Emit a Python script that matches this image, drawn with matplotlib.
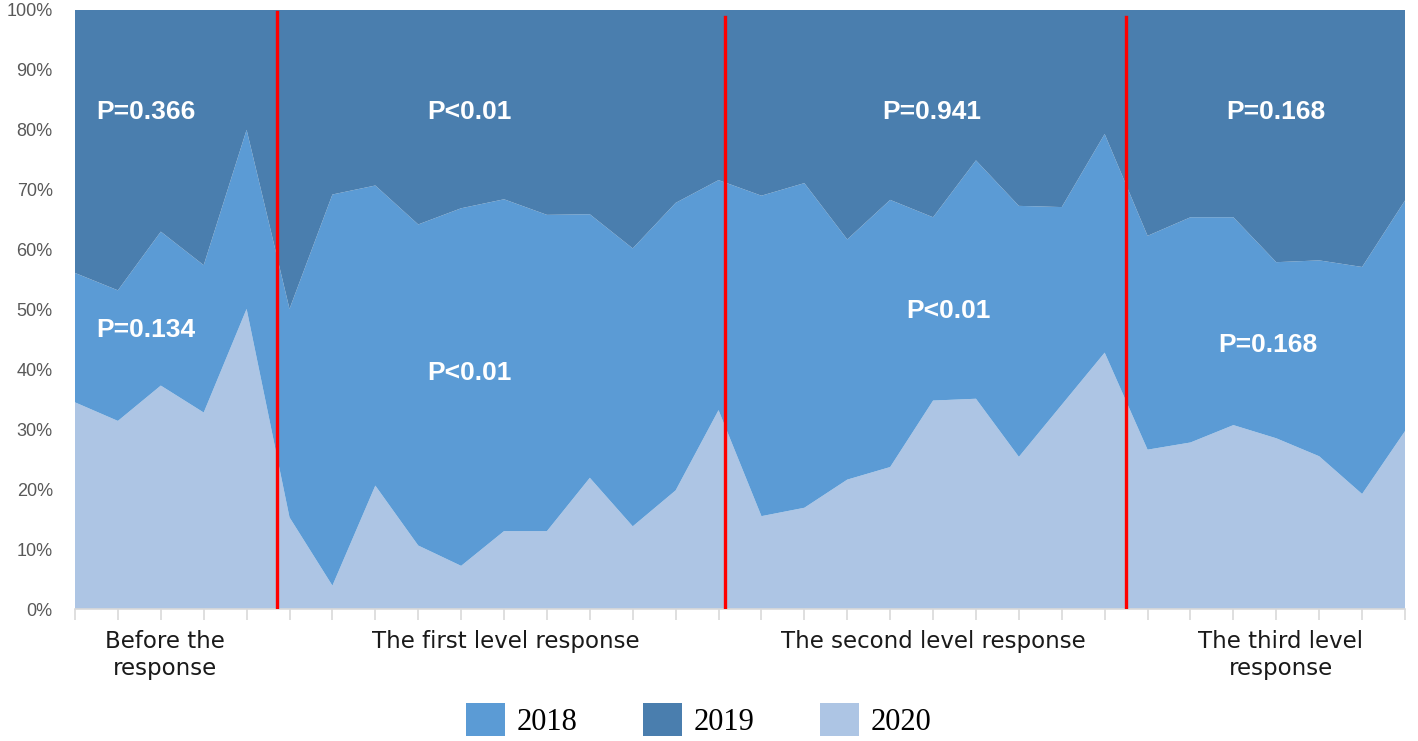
import numpy as np
import matplotlib
matplotlib.use("Agg")
import matplotlib.pyplot as plt
from matplotlib.patches import Patch

# cumulative share (%), 32 weekly points
top_2020 = [34.5, 31.4, 37.3, 32.8, 50.1, 15.3, 3.9, 20.6, 10.6, 7.2, 13.0, 13.0, 21.9, 13.8, 19.8, 33.2,
            15.5, 16.9, 21.6, 23.7, 34.8, 35.1, 25.4, 34.1, 42.8, 26.6, 27.8, 30.7, 28.5, 25.5, 19.2, 29.7]
top_2018 = [56.1, 53.2, 63.0, 57.4, 80.0, 50.1, 69.2, 70.7, 64.2, 66.9, 68.4, 65.8, 65.9, 60.2, 67.8, 71.6,
            69.0, 71.1, 61.7, 68.3, 65.4, 74.9, 67.3, 67.1, 79.3, 62.3, 65.4, 65.4, 57.9, 58.2, 57.1, 68.2]

share_2020 = np.array(top_2020)
share_2018 = np.array(top_2018) - share_2020
share_2019 = 100 - np.array(top_2018)

years = ["2018", "2019", "2020"]
colors = {"2018": "#5B9BD5", "2019": "#4A7EAE", "2020": "#ADC5E4"}

period_labels = ["Before the\nresponse", "The first level response",
                 "The second level response", "The third level\nresponse"]
period_label_x = [2.1, 10.05, 20.0, 28.1]
period_dividers = [4.7, 15.15, 24.5]

p_top = ["P=0.366", "P<0.01", "P=0.941", "P=0.168"]
p_top_x = [1.66, 9.2, 19.98, 28.0]
p_low = ["P=0.134", "P<0.01", "P<0.01", "P=0.168"]
p_low_xy = [(1.66, 46.6), (9.2, 39.4), (20.35, 49.7), (27.8, 44.1)]

fig = plt.figure(figsize=(14.18, 7.41), dpi=100)
ax = fig.add_axes([75 / 1418, 132 / 741, 1330 / 1418, 599 / 741])

x = np.arange(len(top_2020))
ax.stackplot(x, share_2020, share_2018, share_2019,
             colors=[colors["2020"], colors["2018"], colors["2019"]], linewidth=0)

# response level dividers
for i, xd in enumerate(period_dividers):
    ax.plot([xd, xd], [0, 99.6 if i == 0 else 98.8], color="#FF0000", lw=2.4, zorder=5)

for t, xt in zip(p_top, p_top_x):
    ax.text(xt, 83.0, t, color="white", fontsize=19, fontweight="bold",
            ha="center", va="center", family="Liberation Sans")
for t, (xt, yt) in zip(p_low, p_low_xy):
    ax.text(xt, yt, t, color="white", fontsize=19, fontweight="bold",
            ha="center", va="center", family="Liberation Sans")

ax.set_xlim(0, len(x) - 1)
ax.set_ylim(0, 100)
ax.set_yticks(np.arange(0, 101, 10))
ax.set_yticklabels([f"{v}%" for v in range(0, 101, 10)], color="#595959", fontsize=13,
                   family="Liberation Sans")
ax.set_xticks(x)
ax.set_xticklabels([])
ax.tick_params(axis="x", length=8, color="#D9D9D9", width=1.2)
ax.tick_params(axis="y", length=0, pad=16)
for s in ["top", "right", "left"]:
    ax.spines[s].set_visible(False)
ax.spines["bottom"].set_color("#D9D9D9")
ax.spines["bottom"].set_linewidth(1.2)

for lab, xl in zip(period_labels, period_label_x):
    ax.text(xl, -3.5, lab, ha="center", va="top", fontsize=16.5, color="#1A1A1A",
            transform=ax.transData, linespacing=1.25)

handles = [Patch(facecolor=colors[y], edgecolor="none") for y in years]
fig.legend(handles, years, loc="center", bbox_to_anchor=(699 / 1418, 21 / 741), ncol=3,
           frameon=False, prop={"family": "Liberation Serif", "size": 22},
           handlelength=1.25, handleheight=1.25, handletextpad=0.4, columnspacing=2.15)

fig.savefig("out.png", dpi=100)
